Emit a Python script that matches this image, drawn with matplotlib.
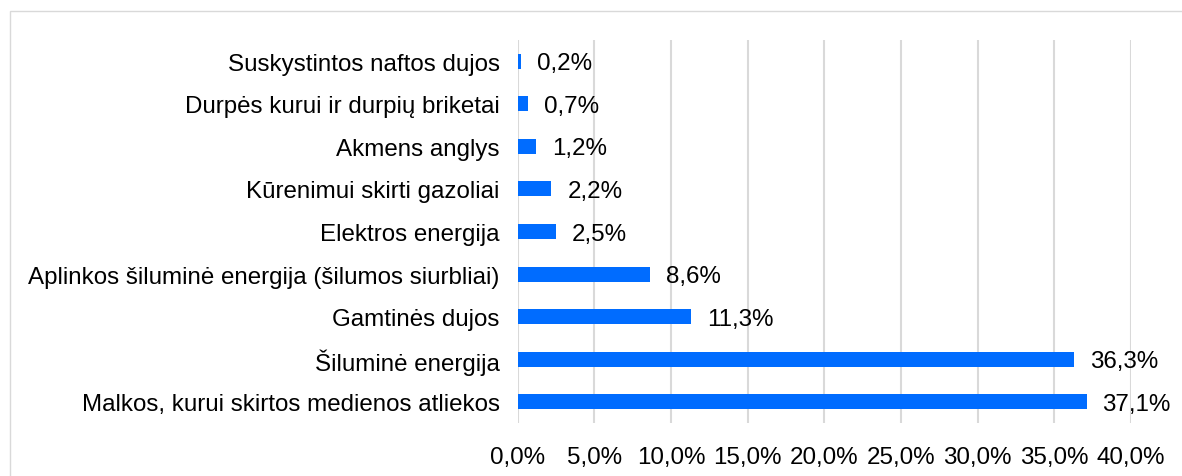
import matplotlib
matplotlib.use('Agg')
import matplotlib.pyplot as plt
from matplotlib.patches import Rectangle

categories = ['Suskystintos naftos dujos', 'Durpės kurui ir durpių briketai', 'Akmens anglys',
              'Kūrenimui skirti gazoliai', 'Elektros energija',
              'Aplinkos šiluminė energija (šilumos siurbliai)', 'Gamtinės dujos',
              'Šiluminė energija', 'Malkos, kurui skirtos medienos atliekos']
values = [0.2, 0.7, 1.2, 2.2, 2.5, 8.6, 11.3, 36.3, 37.1]
xticks = [0, 5, 10, 15, 20, 25, 30, 35, 40]

plt.rcParams['font.family'] = ['Liberation Sans', 'DejaVu Sans']
fs = 17.4

fig = plt.figure(figsize=(11.82, 4.77), dpi=100)
ax = fig.add_axes([517.7 / 1182, 1 - 424 / 477, (1131 - 517.7) / 1182, (424 - 41) / 477])

# chart border (cropped at right and bottom)
fig.patches.append(Rectangle((10 / 1182, -0.1), 1.2, 1.1 - 12 / 477, transform=fig.transFigure,
                             fill=False, edgecolor='#d9d9d9', linewidth=1.0))

y = list(range(len(categories)))[::-1]
ax.barh(y, values, height=0.35, color='#006cff', zorder=3)
for yi, v in zip(y, values):
    ax.annotate(f'{v:.1f}%'.replace('.', ','), (v, yi), xytext=(11.5, -1.5), textcoords='offset points',
                va='center', ha='left', fontsize=fs, color='black')

ax.set_xlim(0, 40)
ax.set_ylim(-0.5, len(categories) - 0.5)
ax.set_xticks(xticks)
ax.set_xticklabels([f'{t:.1f}%'.replace('.', ',') for t in xticks], fontsize=fs, color='black')
ax.set_yticks(y)
ax.set_yticklabels(categories, fontsize=fs, color='black')
ax.tick_params(axis='both', length=0)
ax.tick_params(axis='y', pad=13)
ax.tick_params(axis='x', pad=16.5)
ax.grid(axis='x', color='#d9d9d9', linewidth=1.5, zorder=0)
for s in ax.spines.values():
    s.set_visible(False)

fig.savefig('out.png', dpi=100)
